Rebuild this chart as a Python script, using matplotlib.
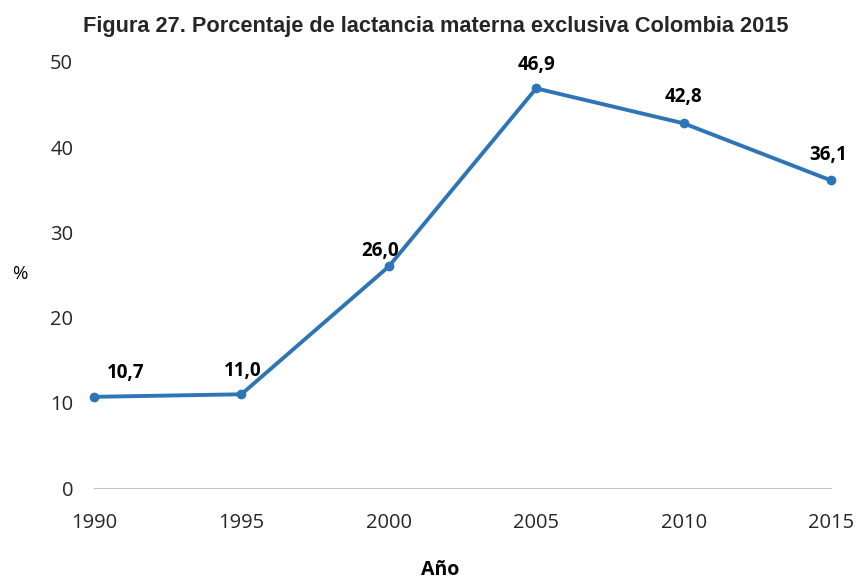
import matplotlib.pyplot as plt

# Data
years = [1990, 1995, 2000, 2005, 2010, 2015]
pct = [10.7, 11.0, 26.0, 46.9, 42.8, 36.1]
labels = ['10,7', '11,0', '26,0', '46,9', '42,8', '36,1']

plt.rcParams['font.family'] = ['Open Sans', 'DejaVu Sans']

fig = plt.figure(figsize=(8.56, 5.82), dpi=100)
ax = fig.add_axes([0.1098, 0.1615, 0.861, 0.732])

ax.plot(years, pct, color='#2E75B6', linewidth=2.8, marker='o', markersize=6, clip_on=False, zorder=3)

# label offsets (points)
offsets = [(23, 17), (1, 17), (-6, 11.5), (0, 16.5), (0, 19), (-2, 18)]
for x, y, t, off in zip(years, pct, labels, offsets):
    ax.annotate(t, (x, y), xytext=off, textcoords='offset points',
                ha='center', va='center', fontsize=13.5, fontweight='bold')

ax.set_xlim(1990, 2015)
ax.set_ylim(0, 50)
ax.set_xticks(years)
ax.set_yticks([0, 10, 20, 30, 40, 50])
for s in ['top', 'right', 'left']:
    ax.spines[s].set_visible(False)
ax.spines['bottom'].set_color('#BFBFBF')
ax.tick_params(axis='both', length=0, labelsize=14.5, labelcolor='#262626')
ax.tick_params(axis='x', pad=18)
ax.tick_params(axis='y', pad=15)

fig.text(0.014, 0.53, '%', fontsize=13.5, ha='left', va='center')
fig.text(0.514, 0.02, 'Año', fontsize=14, fontweight='bold', ha='center', va='center')
title = fig.text(0.509, 0.955, 'Figura 27. Porcentaje de lactancia materna exclusiva Colombia 2015',
                 fontsize=17, fontweight='bold', ha='center', va='center', color='#262626',
                 family=['Liberation Sans Narrow', 'Liberation Sans', 'DejaVu Sans'])

# shrink title to the width it has in the original
fig.canvas.draw()
w = title.get_window_extent().width
title.set_fontsize(17 * 705 / w)

plt.savefig('out.png', dpi=100)
